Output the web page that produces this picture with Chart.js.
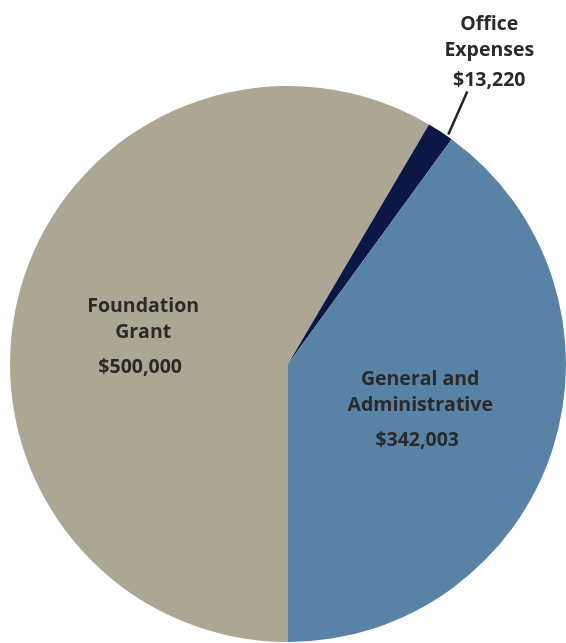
<!DOCTYPE html>
<html>
<head>
<meta charset="utf-8">
<script src="https://cdn.jsdelivr.net/npm/chart.js@4/dist/chart.umd.min.js"></script>
<style>
html,body{margin:0;padding:0;background:#fff;}
#wrap{width:566px;height:643px;position:relative;}
</style>
</head>
<body>
<div id="wrap"><canvas id="pie"></canvas></div>
<script>
// data
const categories=['Foundation Grant','Office Expenses','General and Administrative'];
const labelLines=[['Foundation','Grant'],['Office','Expenses'],['General and','Administrative']];
const amounts=[500000,13220,342003];
const colors=['#ADA693','#0B1846','#5883A7'];

function money(v){
    return '$'+v.toLocaleString('en-US');
}

// labels drawn on top of the slices
const sliceLabels={
    id:'sliceLabels',
    afterDraw(chart){
        const ctx=chart.ctx;
        const arcs=chart.getDatasetMeta(0).data;
        ctx.save();
        ctx.fillStyle='#2a2a2a';
        ctx.textAlign='center';
        ctx.textBaseline='middle';
        ctx.font='bold 19.5px "Open Sans", sans-serif';
        arcs.forEach((arc,i)=>{
            const p=arc.getProps(['x','y','startAngle','endAngle','outerRadius'],true);
            const mid=(p.startAngle+p.endAngle)/2;
            const lines=labelLines[i];
            if(i==1){
                // small slice: label outside with leader line
                const a=p.startAngle+(p.endAngle-p.startAngle)*0.8;
                const x1=p.x+Math.cos(a)*(p.outerRadius+2);
                const y1=p.y+Math.sin(a)*(p.outerRadius+2);
                const x2=x1+19;
                const y2=y1-43;
                ctx.strokeStyle='#222';
                ctx.lineWidth=2.5;
                ctx.beginPath();
                ctx.moveTo(x1,y1);
                ctx.lineTo(x2,y2);
                ctx.stroke();
                const tx=x2+22;
                ctx.fillText(lines[0],tx,y2-67);
                ctx.fillText(lines[1],tx,y2-41);
                ctx.fillText(money(amounts[i]),tx,y2-11);
            }else{
                const r=p.outerRadius*(i==0?0.54:0.5);
                const cx=p.x+Math.cos(mid)*r;
                const cy=p.y+Math.sin(mid)*r+(i==0?6:-4);
                ctx.fillText(lines[0],cx,cy-24);
                ctx.fillText(lines[1],cx,cy+2);
                ctx.fillText(money(amounts[i]),cx-3,cy+37);
            }
        });
        ctx.restore();
    }
};

new Chart(document.getElementById('pie'),{
    type:'pie',
    data:{
        labels:categories,
        datasets:[{
            data:amounts,
            backgroundColor:colors,
            borderWidth:0
        }]
    },
    options:{
        responsive:true,
        maintainAspectRatio:false,
        animation:false,
        rotation:180,
        layout:{padding:{top:85,left:10,right:0,bottom:0}},
        plugins:{
            legend:{display:false},
            tooltip:{enabled:false}
        }
    },
    plugins:[sliceLabels]
});
</script>
</body>
</html>
